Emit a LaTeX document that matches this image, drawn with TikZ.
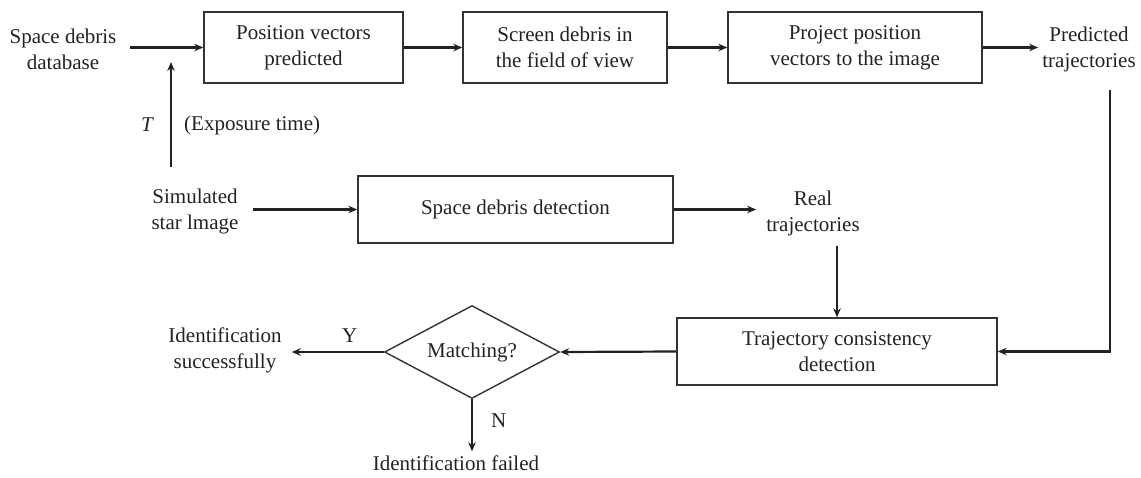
\documentclass[tikz,border=0pt]{standalone}
\usepackage{fontspec}
\setmainfont{Liberation Serif}
\usetikzlibrary{arrows.meta,shapes.geometric}
\definecolor{ink}{HTML}{222222}
\definecolor{edge}{HTML}{333333}
\begin{document}
\begin{tikzpicture}[x=1pt,y=-1pt,
  font=\fontsize{21}{26}\selectfont, text=ink,
  stepbox/.style={draw=edge, line width=1.4pt, inner sep=0pt, minimum height=71pt, align=center},
  lowbox/.style={stepbox, minimum height=67pt},
  label/.style={align=center, inner sep=0pt},
  arr/.style={draw=ink, line width=2.2pt, -{Stealth[length=9pt,width=7.5pt]}},
  decision/.style={draw=edge, line width=1.4pt, diamond, aspect=1.88, inner sep=0pt, minimum width=175pt, minimum height=93pt}
]
\useasboundingbox (0,0) rectangle (1141,477);

% top row
\node[label] (sdb) at (63,49) {Space debris\\database};
\node[stepbox, minimum width=199pt] (box1) at (303.5,47.5) {Position vectors\\predicted};
\node[stepbox, minimum width=204pt] (box2) at (565,47.5) {Screen debris in\\the field of view};
\node[stepbox, minimum width=254pt] (box3) at (855,47.5) {Project position\\vectors to the image};
\node[label] (pred) at (1089,49) {Predicted\\trajectories};

\draw[arr] ([xshift=13pt]sdb.east |- box1.west) -- (box1.west);
\draw[arr] (box1.east) -- (box2.west);
\draw[arr] (box2.east) -- (box3.west);
\draw[arr] (box3.east) -- ([xshift=-4pt]pred.west |- box3.east);

% exposure time
\coordinate (tTop) at (171,62);
\coordinate (tBot) at (171,167);
\draw[arr] (tBot) -- (tTop);
\node[label, font=\fontsize{21}{26}\selectfont\itshape] (tl) at (147,125) {T};
\node[label, anchor=west] (expo) at (184,125) {(Exposure time)};

% middle row
\node[label] (sim) at (195,211) {Simulated\\star lmage};
\node[lowbox, minimum width=315pt] (det) at (515.5,209.5) {Space debris detection};
\node[label] (real) at (813,213) {Real\\trajectories};

\draw[arr] ([xshift=14pt]sim.east |- det.west) -- (det.west);
\draw[arr] (det.east) -- ([xshift=-10pt]real.west |- det.east);

% bottom row
\node[lowbox, minimum width=320pt] (traj) at (837,351.5) {Trajectory consistency\\detection};
\node[decision] (match) at (472,352) {Matching?};
\node[label] (succ) at (225,350) {Identification\\successfully};
\node[label] (fail) at (456,463) {Identification failed};

\draw[arr] ([yshift=-10pt]real.south -| traj.north) -- (traj.north);
\coordinate (pc) at (1110,90);
\draw[arr] (pc) |- (traj.east);
\draw[arr] (traj.west) -- (match.east);
\draw[arr] (match.west) -- ([xshift=10pt]succ.east |- match.west)
  node[pos=0.37, above=8pt, inner sep=0pt] (ylab) {Y};
\draw[arr] (match.south) -- ([yshift=4pt]fail.north -| match.south)
  node[pos=0.42, right=18pt, inner sep=0pt] (nlab) {N};
\end{tikzpicture}
\end{document}
